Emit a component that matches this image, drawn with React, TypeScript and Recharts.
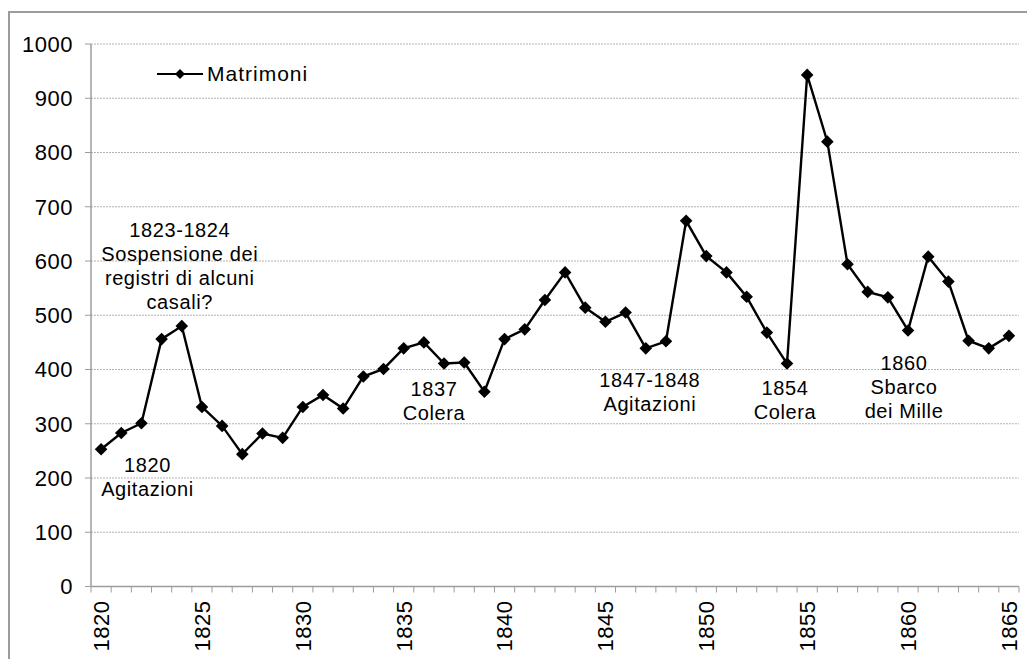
import React from "react";
import { LineChart, Line, XAxis, YAxis, CartesianGrid, Legend, ReferenceDot } from "recharts";

// Matrimoni per anno, 1820-1865
const years = [
    1820, 1821, 1822, 1823, 1824, 1825, 1826, 1827, 1828, 1829,
    1830, 1831, 1832, 1833, 1834, 1835, 1836, 1837, 1838, 1839,
    1840, 1841, 1842, 1843, 1844, 1845, 1846, 1847, 1848, 1849,
    1850, 1851, 1852, 1853, 1854, 1855, 1856, 1857, 1858, 1859,
    1860, 1861, 1862, 1863, 1864, 1865,
];
const matrimoni = [
    253, 283, 301, 456, 480, 331, 296, 244, 282, 274,
    331, 353, 328, 387, 401, 439, 450, 411, 413, 359,
    456, 474, 528, 579, 514, 488, 505, 439, 452, 674,
    609, 579, 534, 468, 411, 943, 820, 594, 543, 533,
    472, 608, 562, 453, 439, 462,
];
const yTicks = [0, 100, 200, 300, 400, 500, 600, 700, 800, 900, 1000];
const labelYears = [1820, 1825, 1830, 1835, 1840, 1845, 1850, 1855, 1860, 1865];

// notes written on the chart, anchored at (year, value) of their first line
const noteYears = [1823.9, 1822.3, 1836.5, 1847.2, 1853.9, 1859.8];
const noteValues = [657, 224, 364, 381, 366, 412];
const noteLines = [
    ["1823-1824", "Sospensione dei", "registri di alcuni", "casali?"],
    ["1820", "Agitazioni"],
    ["1837", "Colera"],
    ["1847-1848", "Agitazioni"],
    ["1854", "Colera"],
    ["1860", "Sbarco", "dei Mille"],
];

const FONT = "'Liberation Sans', Arial, sans-serif";
const AXIS = "#9c9c9c";

const data = years.map((year, i) => ({ year, value: matrimoni[i] }));
// tick marks sit between the categories, labels every 5 years
const boundaries = [...years.map((y) => y - 0.5), years[years.length - 1] + 0.5];
const xTicks = [...boundaries, ...labelYears].sort((a, b) => a - b);

function Diamond({ cx, cy, size = 6.3 }: any) {
    if (cx == null || cy == null) return null;
    return (
        <path
            d={`M${cx},${cy - size}L${cx + size},${cy}L${cx},${cy + size}L${cx - size},${cy}Z`}
            fill="#000"
        />
    );
}

function YearTick({ x, y, payload }: any) {
    const v = payload.value;
    if (v % 1 !== 0) {
        return <line x1={x} y1={y} x2={x} y2={y + 6} stroke={AXIS} strokeWidth={1} />;
    }
    if (v % 5 !== 0) return <g />;
    return (
        <text
            transform={`translate(${x},${y + 14}) rotate(-90)`}
            textAnchor="end"
            dy="0.36em"
            fill="#000"
            fontSize={22}
            fontFamily={FONT}
            letterSpacing={0.5}
        >
            {v}
        </text>
    );
}

function ValueTick({ x, y, payload }: any) {
    return (
        <text x={x} y={y} dy="0.36em" textAnchor="end" fill="#000" fontSize={22} fontFamily={FONT} letterSpacing={0.5}>
            {payload.value}
        </text>
    );
}

function NoteText({ cx, cy, lines }: any) {
    if (cx == null || cy == null) return null;
    return (
        <text textAnchor="middle" fill="#000" fontSize={20} fontFamily={FONT} letterSpacing={0.6}>
            {lines.map((l: string, i: number) => (
                <tspan key={i} x={cx} y={cy + i * 24} dy="0.36em">
                    {l}
                </tspan>
            ))}
        </text>
    );
}

function LegendBox() {
    return (
        <div style={{ display: "flex", alignItems: "center", height: 22 }}>
            <svg width={50} height={22}>
                <line x1={0} y1={11} x2={46} y2={11} stroke="#000" strokeWidth={2.2} />
                <Diamond cx={23} cy={11} size={5} />
            </svg>
            <span style={{ fontFamily: FONT, fontSize: 21, letterSpacing: 1, color: "#000" }}>Matrimoni</span>
        </div>
    );
}

export default function App() {
    return (
        <div style={{ position: "absolute", left: 0, top: 0, width: 1027, height: 659, overflow: "hidden", background: "#fff" }}>
            <div
                style={{
                    position: "absolute",
                    left: 8,
                    top: 11,
                    width: 1100,
                    height: 700,
                    borderTop: `2px solid ${AXIS}`,
                    borderLeft: `2px solid ${AXIS}`,
                }}
            />
            <div style={{ position: "absolute", left: 0, top: 0 }}>
                <LineChart width={1027} height={659} data={data} margin={{ top: 44, right: 8, bottom: 0, left: 0 }}>
                    <CartesianGrid vertical={false} stroke="#b4b4b4" strokeDasharray="2 1" />
                    <XAxis
                        dataKey="year"
                        type="number"
                        domain={[1819.5, 1865.5]}
                        ticks={xTicks}
                        interval={0}
                        height={72.5}
                        axisLine={{ stroke: AXIS, strokeWidth: 1.5 }}
                        tickLine={false}
                        tickSize={0}
                        tickMargin={0}
                        tick={<YearTick />}
                    />
                    <YAxis
                        type="number"
                        domain={[0, 1000]}
                        ticks={yTicks}
                        interval={0}
                        width={91}
                        axisLine={{ stroke: AXIS, strokeWidth: 1.5 }}
                        tickLine={{ stroke: AXIS }}
                        tickSize={6}
                        tickMargin={12}
                        tick={<ValueTick />}
                    />
                    <Legend
                        layout="vertical"
                        align="center"
                        verticalAlign="middle"
                        wrapperStyle={{ left: 157, top: 63, width: "auto" }}
                        content={<LegendBox />}
                    />
                    {noteLines.map((lines, i) => (
                        <ReferenceDot
                            key={i}
                            x={noteYears[i]}
                            y={noteValues[i]}
                            r={0}
                            shape={(p: any) => <NoteText cx={p.cx} cy={p.cy} lines={lines} />}
                        />
                    ))}
                    <Line
                        type="linear"
                        dataKey="value"
                        name="Matrimoni"
                        stroke="#000"
                        strokeWidth={2.4}
                        dot={<Diamond />}
                        activeDot={false}
                        isAnimationActive={false}
                    />
                </LineChart>
            </div>
        </div>
    );
}
